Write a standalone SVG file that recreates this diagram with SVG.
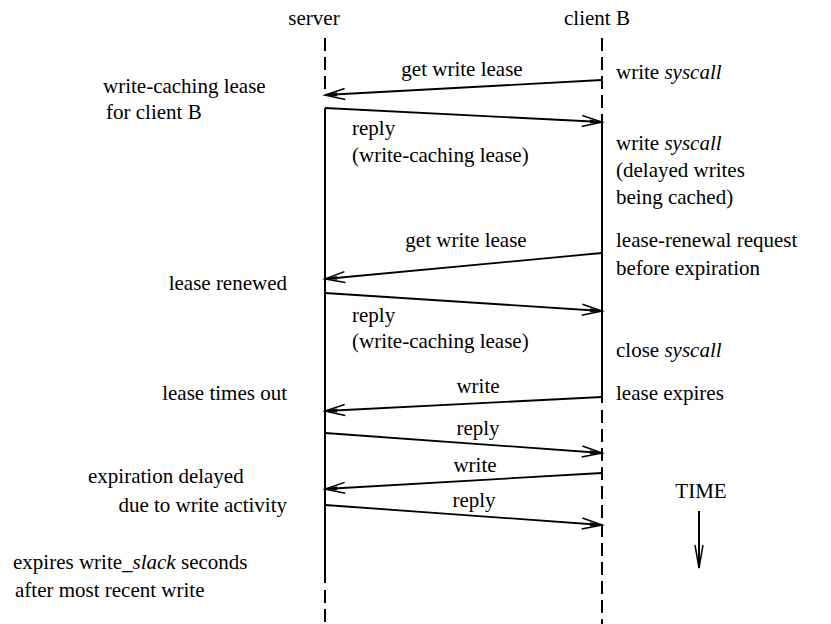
<svg xmlns="http://www.w3.org/2000/svg" width="831" height="624" viewBox="0 0 831 624">
  <style>
    text { font-size: 21px; fill: #000; }
    .it { font-style: italic; }
    .mid { text-anchor: middle; }
    .end { text-anchor: end; }
    .life { stroke: #000; stroke-width: 2; fill: none; }
    .dash { stroke-dasharray: 13 6; }
    .msg { stroke: #000; stroke-width: 1.8; fill: none; marker-end: url(#head); }
  </style>
  <defs>
    <marker id="head" markerUnits="userSpaceOnUse" orient="auto" markerWidth="24" markerHeight="14" refX="22" refY="7" viewBox="0 0 24 14" overflow="visible">
      <path d="M2,1.5 L22,7 L2,12.5" fill="none" stroke="#000" stroke-width="1.5"/>
      <path d="M10,5 L22,7 L10,9 Z" fill="#000"/>
    </marker>
  </defs>

  <!-- lifelines -->
  <g id="server">
    <text class="mid" x="314" y="25" font-family="Liberation Serif">server</text>
    <path class="life dash" d="M325,38 V95"/>
    <path class="life" d="M325,108 V583"/>
    <path class="life dash" d="M325,590 V624"/>
  </g>
  <g id="clientB">
    <text class="mid" x="597" y="25" font-family="Liberation Serif">client B</text>
    <path class="life dash" d="M602,38 V122"/>
    <path class="life" d="M602,122 V403"/>
    <path class="life dash" d="M602,410 V624"/>
  </g>

  <!-- messages between server and client B -->
  <g id="connectors">
    <path class="msg" d="M602,80 L325,95"/>
    <path class="msg" d="M325,108 L602,122"/>
    <path class="msg" d="M602,253 L325,279"/>
    <path class="msg" d="M325,293 L602,311"/>
    <path class="msg" d="M602,397 L325,411"/>
    <path class="msg" d="M325,433 L602,453"/>
    <path class="msg" d="M602,473 L325,489"/>
    <path class="msg" d="M325,505 L602,525"/>
  </g>

  <!-- message labels -->
  <g id="msg-labels">
    <text class="mid" x="462" y="76" font-family="Liberation Serif">get write lease</text>
    <text x="352" y="135" font-family="Liberation Serif">reply</text>
    <text x="352" y="162" font-family="Liberation Serif">(write-caching lease)</text>
    <text class="mid" x="466" y="247" font-family="Liberation Serif">get write lease</text>
    <text x="352" y="322" font-family="Liberation Serif">reply</text>
    <text x="352" y="348" font-family="Liberation Serif">(write-caching lease)</text>
    <text class="mid" x="478" y="393" font-family="Liberation Serif">write</text>
    <text class="mid" x="478" y="435" font-family="Liberation Serif">reply</text>
    <text class="mid" x="475" y="472" font-family="Liberation Serif">write</text>
    <text class="mid" x="474" y="507" font-family="Liberation Serif">reply</text>
  </g>

  <!-- server-side notes -->
  <g id="server-notes">
    <text x="103" y="93" font-family="Liberation Serif">write-caching lease</text>
    <text x="106" y="119" font-family="Liberation Serif">for client B</text>
    <text class="end" x="287" y="290" font-family="Liberation Serif">lease renewed</text>
    <text class="end" x="287" y="400" font-family="Liberation Serif">lease times out</text>
    <text x="88" y="483" font-family="Liberation Serif">expiration delayed</text>
    <text class="end" x="287" y="512" font-family="Liberation Serif">due to write activity</text>
    <text x="13" y="569" font-family="Liberation Serif">expires write_<tspan class="it" font-family="Liberation Serif">slack</tspan> seconds</text>
    <text x="15" y="597" font-family="Liberation Serif">after most recent write</text>
  </g>

  <!-- client-side notes -->
  <g id="client-notes">
    <text x="616" y="79" font-family="Liberation Serif">write <tspan class="it" font-family="Liberation Serif">syscall</tspan></text>
    <text x="616" y="150" font-family="Liberation Serif">write <tspan class="it" font-family="Liberation Serif">syscall</tspan></text>
    <text x="616" y="177" font-family="Liberation Serif">(delayed writes</text>
    <text x="616" y="204" font-family="Liberation Serif">being cached)</text>
    <text x="616" y="247" font-family="Liberation Serif">lease-renewal request</text>
    <text x="616" y="275" font-family="Liberation Serif">before expiration</text>
    <text x="616" y="357" font-family="Liberation Serif">close <tspan class="it" font-family="Liberation Serif">syscall</tspan></text>
    <text x="616" y="400" font-family="Liberation Serif">lease expires</text>
  </g>

  <!-- time axis -->
  <g id="time">
    <text class="mid" x="701" y="498" font-family="Liberation Serif">TIME</text>
    <path d="M699,511 V568" stroke="#000" stroke-width="2" fill="none"/>
    <path d="M695,545 L699,568 L703,545" stroke="#000" stroke-width="1.5" fill="none"/>
  </g>
</svg>
